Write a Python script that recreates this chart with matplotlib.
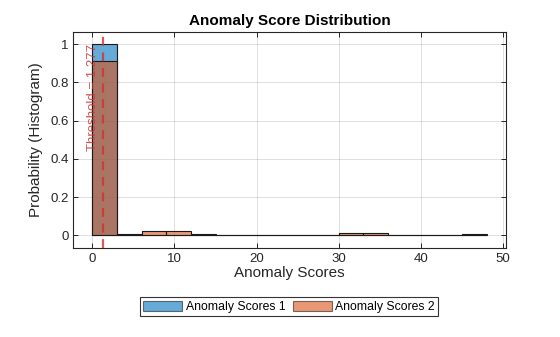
import numpy as np
import matplotlib
matplotlib.use("Agg")
import matplotlib.pyplot as plt

plt.rcParams["font.family"] = ["Liberation Sans", "DejaVu Sans"]

# Bin edges (width 3) and normalised histogram heights for both score sets
bin_edges = [0, 3, 6, 9, 12, 15, 18, 21, 24, 27, 30, 33, 36, 39, 42, 45, 48]
probs_1 = [1.0, 0, 0, 0, 0, 0, 0, 0, 0, 0, 0, 0, 0, 0, 0, 0]
probs_2 = [0.915, 0.005, 0.02, 0.02, 0.005, 0, 0, 0, 0, 0, 0.01, 0.01, 0, 0, 0, 0.005]
threshold = 1.277
labels = ["Anomaly Scores 1", "Anomaly Scores 2"]

blue = (0.0, 0.447, 0.741)
orange = (0.85, 0.325, 0.098)
axis_gray = (0.15, 0.15, 0.15)

fig = plt.figure(figsize=(5.6, 3.37), dpi=100)
ax = fig.add_axes([0.131, 0.265, 0.772, 0.641])

left = np.array(bin_edges[:-1])
widths = np.diff(bin_edges)
ax.bar(left, probs_1, width=widths, align="edge", color=blue, alpha=0.6,
       edgecolor="none", label=labels[0], zorder=2)
ax.bar(left, probs_1, width=widths, align="edge", fill=False,
       edgecolor="#1a1a1a", linewidth=0.8, zorder=2)
ax.bar(left, probs_2, width=widths, align="edge", color=orange, alpha=0.6,
       edgecolor="none", label=labels[1], zorder=3)
ax.bar(left, probs_2, width=widths, align="edge", fill=False,
       edgecolor="#1a1a1a", linewidth=0.8, zorder=3)

# Threshold marker
ax.axvline(threshold, color=(0.8, 0.2, 0.2), linestyle=(0, (4, 3)),
           linewidth=1.6, alpha=0.8, zorder=4)
ax.annotate(f"Threshold = {threshold}", xy=(threshold, 1.0), xytext=(-3, 0),
            textcoords="offset points", rotation=90, ha="right", va="top",
            color=(0.8, 0.2, 0.2), alpha=0.85, fontsize=9.5, zorder=5)

ax.set_xlim(-2.3, 50.3)
ax.set_ylim(-0.065, 1.066)
ax.set_xticks([0, 10, 20, 30, 40, 50])
ax.set_yticks([0, 0.2, 0.4, 0.6, 0.8, 1.0])
ax.set_yticklabels(["0", "0.2", "0.4", "0.6", "0.8", "1"])

ax.grid(True, color=(0.15, 0.15, 0.15), alpha=0.15, linewidth=0.7, zorder=0)
ax.set_axisbelow(True)
for s in ax.spines.values():
    s.set_color(axis_gray)
    s.set_linewidth(0.8)
ax.tick_params(direction="in", length=3.5, width=0.7, colors=axis_gray,
               labelsize=9.5, top=True, right=True)

ax.set_title("Anomaly Score Distribution", fontsize=11, fontweight="bold",
             color="black", pad=5)
ax.set_xlabel("Anomaly Scores", fontsize=11, color=axis_gray, labelpad=1)
ax.set_ylabel("Probability (Histogram)", fontsize=11, color=axis_gray, labelpad=5)

leg = fig.legend(loc="center", bbox_to_anchor=(0.516, 0.09), ncol=2,
                 fontsize=8.8, frameon=True, fancybox=False, edgecolor="black",
                 handlelength=3.2, handleheight=0.9, handletextpad=0.3,
                 columnspacing=0.6, borderpad=0.25, borderaxespad=0)
leg.get_frame().set_linewidth(0.8)
for h in leg.legend_handles:
    h.set_edgecolor("#1a1a1a")
    h.set_linewidth(0.8)

fig.savefig("out.png", dpi=100)
